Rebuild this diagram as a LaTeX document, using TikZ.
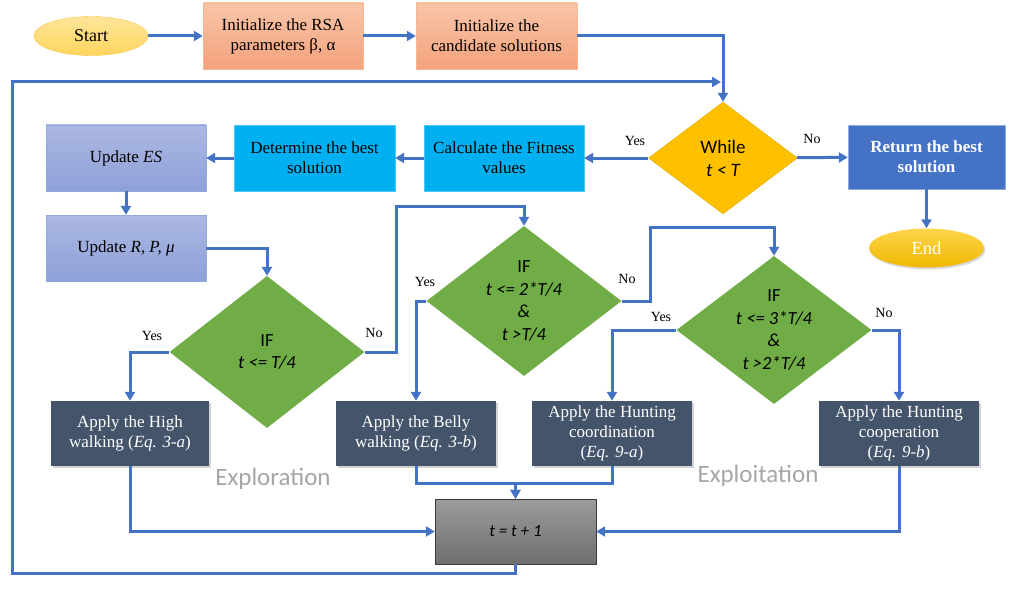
\documentclass[tikz,border=0pt]{standalone}
\usepackage{fontspec}
\setmainfont{Liberation Serif}
\newfontfamily\calibri{Carlito}
\usetikzlibrary{shapes.geometric,arrows.meta,shadows,positioning}

\definecolor{flowblue}{HTML}{4472C4}
\definecolor{slate}{HTML}{44546A}
\definecolor{leaf}{HTML}{70AD47}
\definecolor{gold}{HTML}{FFC000}
\definecolor{sky}{HTML}{00B0F0}
\definecolor{edgeblue}{HTML}{8FAADC}
\definecolor{starttop}{HTML}{FFE59A}
\definecolor{startbot}{HTML}{FFD55E}
\definecolor{startedge}{HTML}{F4C542}
\definecolor{endtop}{HTML}{FFD54A}
\definecolor{endbot}{HTML}{F0B700}
\definecolor{inittop}{HTML}{F8C5A8}
\definecolor{initbot}{HTML}{F4A27C}
\definecolor{initedge}{HTML}{F5B892}
\definecolor{updtop}{HTML}{ACB8E2}
\definecolor{updbot}{HTML}{8DA0D8}
\definecolor{steptop}{HTML}{9C9C9C}
\definecolor{stepbot}{HTML}{6E6E6E}
\definecolor{stepedge}{HTML}{3A3A3A}
\definecolor{phase}{HTML}{A6A6A6}

\newcommand{\boxfont}{\fontsize{17}{20}\selectfont}
\newcommand{\condfont}{\calibri\fontsize{18.5}{22.6}\selectfont}

\tikzset{
    box/.style={rectangle, minimum width=160pt, minimum height=66pt, inner sep=2pt, align=center, font=\boxfont},
    initbox/.style={box, top color=inittop, bottom color=initbot, draw=initedge},
    skybox/.style={box, fill=sky, draw=sky!70!white},
    updbox/.style={box, top color=updtop, bottom color=updbot, draw=edgeblue},
    applybox/.style={box, fill=slate, text=white, drop shadow={opacity=0.35, shadow xshift=2pt, shadow yshift=-2pt}},
    cond/.style={diamond, fill=leaf, inner sep=0pt, align=center, font=\condfont, aspect=1.3, minimum width=195pt, minimum height=150pt},
    lbl/.style={font=\fontsize{14}{16}\selectfont},
    flow/.style={draw=flowblue, line width=3pt, -{Triangle[length=9pt,width=10pt]}},
}

\begin{document}
\begin{tikzpicture}[x=1pt, y=-1pt]
    \useasboundingbox (0,0) rectangle (1014,607);

    \node[ellipse, minimum width=114pt, minimum height=39pt, top color=starttop, bottom color=startbot, draw=startedge, font=\fontsize{18}{20}\selectfont] (start) at (91,36) {Start};
    \node[initbox] (rsa) at (283,36) {Initialize the RSA\\parameters β, α};
    \node[initbox, minimum width=161pt] (cand) at (496.5,36) {Initialize the\\candidate solutions};

    \node[diamond, fill=gold, draw=gold!90!black, inner sep=0pt, align=center, font=\calibri\fontsize{19}{23}\selectfont, aspect=1.33, minimum width=149pt, minimum height=112pt] (while) at (723,158) {While\\\itshape t < T};
    \node[box, fill=flowblue, draw=edgeblue, text=white, font=\boxfont\bfseries, minimum width=157pt, minimum height=64pt] (ret) at (926.5,157) {Return the best\\solution};
    \node[ellipse, minimum width=115pt, minimum height=39pt, top color=endtop, bottom color=endbot, text=white, font=\fontsize{18.5}{20}\selectfont, drop shadow={opacity=0.3, shadow xshift=1.5pt, shadow yshift=-2pt}] (end) at (926.5,248) {End};

    \node[skybox] (calc) at (504,158) {Calculate the Fitness\\values};
    \node[skybox, minimum width=161pt] (det) at (314.5,158) {Determine the best\\solution};
    \node[updbox] (upes) at (126,158) {Update \textit{ES}};
    \node[updbox] (uprp) at (126,248) {Update \textit{R, P, μ}};

    \node[cond, minimum height=152pt] (if1) at (267,352) {IF\\\itshape t <= T/4};
    \node[cond] (if2) at (524,301) {IF\\\itshape t <= 2*T/4\\\itshape \&\\\itshape t >T/4};
    \node[cond, minimum height=148pt] (if3) at (774,330) {IF\\\itshape t <= 3*T/4\\\itshape \&\\\itshape t >2*T/4};

    \node[applybox, minimum width=158pt, minimum height=65pt] (high) at (130,433.5) {Apply the High\\walking (\textit{Eq. 3-a})};
    \node[applybox, minimum height=65pt] (belly) at (416,433.5) {Apply the Belly\\walking (\textit{Eq. 3-b})};
    \node[applybox, minimum height=65pt] (coord) at (612,433.5) {Apply the Hunting\\coordination\\(\textit{Eq. 9-a})};
    \node[applybox, minimum height=65pt] (coop) at (899,433.5) {Apply the Hunting\\cooperation\\(\textit{Eq. 9-b})};

    \node[box, minimum width=161pt, minimum height=65pt, top color=steptop, bottom color=stepbot, draw=stepedge, font=\calibri\itshape\fontsize{17}{20}\selectfont] (tbox) at (515.5,531.5) {t = t + 1};

    \node[text=phase, font=\calibri\fontsize{25}{28}\selectfont] (explore) at (273,479) {Exploration};
    \node[text=phase, font=\calibri\fontsize{25}{28}\selectfont] (exploit) at (758,476) {Exploitation};

    \node[lbl] (yes0) at (635,141) {Yes};
    \node[lbl] (no0) at (812,139) {No};
    \node[lbl] (yes1) at (152,336) {Yes};
    \node[lbl] (no1) at (374,333) {No};
    \node[lbl] (yes2) at (425,282) {Yes};
    \node[lbl] (no2) at (627,279) {No};
    \node[lbl] (yes3) at (661,317) {Yes};
    \node[lbl] (no3) at (884,313) {No};

    \coordinate (n1) at (396,206);
    \coordinate (n2) at (650,227);
    \coordinate (join) at (721,82);

    \draw[flow] (start) -- (rsa);
    \draw[flow] (rsa) -- (cand);
    \draw[flow] (cand.east) -| (while.north);
    \draw[flow] (while) -- (calc);
    \draw[flow] (while) -- (ret);
    \draw[flow] (ret) -- (end);
    \draw[flow] (calc) -- (det);
    \draw[flow] (det) -- (upes);
    \draw[flow] (upes) -- (uprp);
    \draw[flow] (uprp.east) -| (if1.north);
    \draw[flow] (if1.west) -| (high.north);
    \draw[flow] (if1.east) -| (n1) -| (if2.north);
    \draw[flow] (if2.west) -| (belly.north);
    \draw[flow] (if2.east) -| (n2) -| (if3.north);
    \draw[flow] (if3.west) -| (coord.north);
    \draw[flow] (if3.east) -| (coop.north);
    \draw[flow] (high.south) |- (tbox.west);
    \draw[flow] (coop.south) |- (tbox.east);
    \draw[flow] (belly.south) -- ++(0,17) -| (tbox.north);
    \draw[flow] (coord.south) -- ++(0,17) -| (tbox.north);
    \draw[flow] (tbox.south) -- ++(0,9) -| (12,82) -- (join);
\end{tikzpicture}
\end{document}
